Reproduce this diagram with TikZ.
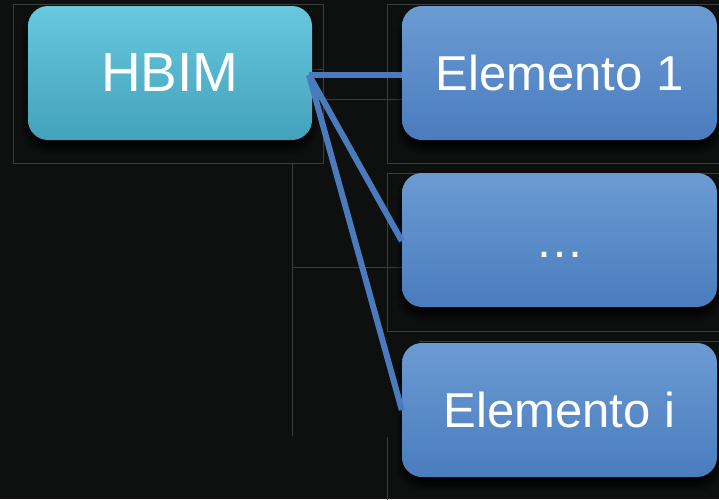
\documentclass[tikz,border=0pt]{standalone}
\usepackage{fontspec}
\setmainfont{Liberation Sans}
\usetikzlibrary{shadows.blur}
\definecolor{bgdark}{HTML}{0E0F0F}
\definecolor{guide}{HTML}{3C3C3C}
\definecolor{cyantop}{HTML}{68C8DE}
\definecolor{cyanbot}{HTML}{43A2BB}
\definecolor{bluetop}{HTML}{6C9BD3}
\definecolor{bluebot}{HTML}{4A7CBE}
\definecolor{linkblue}{HTML}{4A7BBD}
\tikzset{
  boxbase/.style={rectangle, rounded corners=20pt, inner sep=0pt,
    minimum height=134pt, text=white,
    blur shadow={shadow xshift=0pt, shadow yshift=-8pt,
      shadow blur radius=7pt, shadow opacity=100, shadow blur steps=8}},
  rootbox/.style={boxbase, minimum width=284pt,
    top color=cyantop, bottom color=cyanbot, font=\fontsize{55}{60}\selectfont},
  itembox/.style={boxbase, minimum width=315pt,
    top color=bluetop, bottom color=bluebot, font=\fontsize{49}{54}\selectfont},
  guideline/.style={draw=guide, line width=0.7pt},
  link/.style={draw=linkblue, line width=6pt}
}
\begin{document}
\begin{tikzpicture}[x=1pt, y=-1pt]
  % canvas
  \fill[bgdark] (0,0) rectangle (719,499);
  \useasboundingbox (0,0) rectangle (719,499);

  % thin layout guides
  \draw[guideline] (13,4) rectangle (323,163);
  \draw[guideline] (387,4) rectangle (722,163);
  \draw[guideline] (323,69) -- (296,69) -- (296,99) -- (419,99);
  \draw[guideline] (292,163) -- (292,436);
  \draw[guideline] (292,267) -- (419,267);
  \draw[guideline] (387,173) rectangle (722,331);
  \draw[guideline] (419,341) -- (722,341);
  \draw[guideline] (387,437) -- (387,502);

  % boxes
  \node[rootbox] (hbim) at (170,73) {HBIM};
  \node[itembox] (e1) at (559.5,73) {Elemento 1};
  \node[itembox] (emid) at (559.5,240) {\vphantom{Elemento}…};
  \node[itembox] (ei) at (559.5,410) {Elemento i};

  % connectors
  \coordinate (hub) at (309,75);
  \draw[link] (hub) -- (e1.west |- hub);
  \draw[link] (hub) -- ([yshift=-1pt]emid.west);
  \draw[link] (hub) -- (ei.west);
\end{tikzpicture}
\end{document}
